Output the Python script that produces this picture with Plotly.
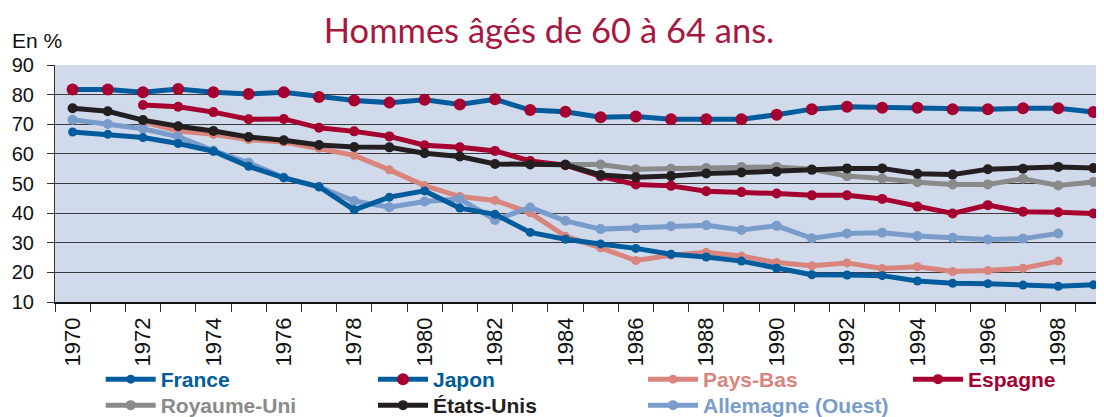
import plotly.graph_objects as go

years = list(range(1970, 2000))

france = [67.4, 66.6, 65.5, 63.5, 60.9, 55.8, 51.9, 48.9, 41.1, 45.4, 47.5, 41.7, 39.6, 33.5, 31.2,
          29.6, 28.1, 26.1, 25.2, 23.8, 21.4, 19.2, 19.1, 18.9, 17.1, 16.3, 16.2, 15.7, 15.3, 15.8]
japon = [81.7, 81.7, 80.8, 81.9, 80.8, 80.2, 80.8, 79.2, 78.0, 77.3, 78.3, 76.7, 78.4, 74.8, 74.2,
         72.4, 72.6, 71.7, 71.7, 71.7, 73.2, 75.1, 75.9, 75.6, 75.6, 75.1, 75.1, 75.4, 75.4, 74.1]
pays_bas = [None, None, 70.8, 67.7, 66.6, 64.8, 64.0, 61.9, 59.5, 54.6, 49.3, 45.6, 44.3, 40.1, 32.2,
            28.3, 24.0, 25.8, 26.8, 25.5, 23.3, 22.2, 23.2, 21.3, 21.9, 20.3, 20.6, 21.4, 23.8, None]
espagne = [None, None, 76.5, 75.9, 74.1, 71.7, 71.8, 68.8, 67.6, 65.9, 62.9, 62.2, 61.0, 57.6, 56.2,
           52.4, 49.7, 49.2, 47.4, 47.1, 46.6, 46.0, 46.0, 44.8, 42.2, 39.9, 42.7, 40.5, 40.3, 39.9]
royaume_uni = [None] * 14 + [56.4, 56.4, 54.8, 55.0, 55.2, 55.6, 55.6, 54.8, 52.5, 51.7, 50.4,
                             49.7, 49.7, 51.6, 49.3, 50.5]
etats_unis = [75.4, 74.4, 71.4, 69.3, 67.7, 65.7, 64.6, 63.0, 62.3, 62.2, 60.2, 59.1, 56.6, 56.4, 56.3,
              52.9, 52.1, 52.5, 53.4, 53.7, 54.0, 54.6, 55.1, 55.1, 53.3, 53.0, 54.8, 55.0, 55.6, 55.2]
allemagne = [71.5, 70.1, 68.5, 65.8, 61.1, 57.0, 52.0, 48.9, 44.1, 42.0, 43.9, 44.8, 37.7, 41.9, 37.4,
             34.6, 34.9, 35.6, 35.9, 34.3, 35.7, 31.5, 33.1, 33.4, 32.3, 31.7, 31.1, 31.4, 33.1, None]

year_labels = list(range(1970, 2000, 2))
y_ticks = [10, 20, 30, 40, 50, 60, 70, 80, 90]

# name, values, line colour, marker colour, marker size, legend id (drawing order = list order)
series = [
    ("Pays-Bas", pays_bas, "#d9857e", "#d9857e", 9, "legend3"),
    ("Allemagne (Ouest)", allemagne, "#7a9ccb", "#7a9ccb", 10, "legend7"),
    ("France", france, "#005c9d", "#005c9d", 9, "legend"),
    ("Royaume-Uni", royaume_uni, "#8a8a8a", "#8a8a8a", 10, "legend5"),
    ("Espagne", espagne, "#a5002f", "#a5002f", 10, "legend4"),
    ("Japon", japon, "#005c9d", "#a5002f", 12, "legend2"),
    ("États-Unis", etats_unis, "#231f20", "#231f20", 10, "legend6"),
]
text_colour = {"Pays-Bas": "#d9857e", "Allemagne (Ouest)": "#7a9ccb", "France": "#005c9d",
               "Royaume-Uni": "#8a8a8a", "Espagne": "#a5002f", "Japon": "#005c9d",
               "États-Unis": "#231f20"}

fig = go.Figure()
for name, vals, lc, mc, ms, leg in series:
    fig.add_trace(go.Scatter(
        x=years, y=vals, mode="lines+markers",
        name=f"<b><span style='color:{text_colour[name]}'>{name}</span></b>",
        line=dict(color=lc, width=5),
        marker=dict(color=mc, size=ms),
        legend=leg,
        connectgaps=False,
    ))

W, H = 1096, 409          # page body margin of 8 px leaves this much visible
L, T, B = 47, 57, 115
PW, PH = W - L, H - T - B
row_tops = [351, 377]
col_x = [92.7, 365, 635, 900]
leg_font = dict(size=21, family="Liberation Sans, Arial, sans-serif")


def legend_at(col, row):
    return dict(orientation="v", xref="container", yref="container",
                x=col_x[col] / W, xanchor="left", y=1 - row_tops[row] / H, yanchor="top",
                font=leg_font, tracegroupgap=0, itemwidth=50, bgcolor="rgba(0,0,0,0)")


fig.update_layout(
    width=W, height=H,
    margin=dict(l=L, r=0, t=T, b=B, autoexpand=False),
    paper_bgcolor="white",
    plot_bgcolor="#d1daeb",
    font=dict(family="Liberation Sans, Arial, sans-serif", color="#111111"),
    title=dict(text="Hommes âgés de 60 à 64 ans.", x=541 / W, xref="container", xanchor="center",
               y=1 - 23 / H, yref="container", yanchor="middle",
               font=dict(family="Lato, sans-serif", size=34.5, color="#a8173f")),
    showlegend=True,
    legend=legend_at(0, 0),
    legend2=legend_at(1, 0),
    legend3=legend_at(2, 0),
    legend4=legend_at(3, 0),
    legend5=legend_at(0, 1),
    legend6=legend_at(1, 1),
    legend7=legend_at(2, 1),
    annotations=[dict(text="En %", xref="paper", yref="paper", x=(2 - L) / PW, y=1 + (T - 33) / PH,
                      xanchor="left", yanchor="middle", showarrow=False,
                      font=dict(size=21, color="#111111"))],
)

fig.update_xaxes(
    range=[1969.5, 1999.3], automargin=False,
    tickmode="array", tickvals=year_labels, ticktext=[str(v) for v in year_labels],
    tickangle=-90, ticks="", tickfont=dict(size=22, color="#111111"),
    ticklabelstandoff=5,
    showgrid=False, zeroline=False,
    showline=True, linecolor="#111111", linewidth=1.5,
    minor=dict(tickmode="array", tickvals=[y - 0.5 for y in years], ticks="outside",
               ticklen=8, tickcolor="#333333", tickwidth=1, showgrid=False),
)
fig.update_yaxes(
    range=[10, 90], automargin=False,
    tickmode="array", tickvals=y_ticks, ticks="outside", ticklen=7, tickcolor="#333333",
    tickfont=dict(size=20, color="#111111"), ticklabelstandoff=9,
    showgrid=False, zeroline=False,
    showline=True, linecolor="#333333", linewidth=1,
    minor=dict(tickmode="array", tickvals=y_ticks[1:-1], ticks="", showgrid=True,
               gridcolor="#3a3a3a", gridwidth=1),
)

fig.write_html("out.html")
